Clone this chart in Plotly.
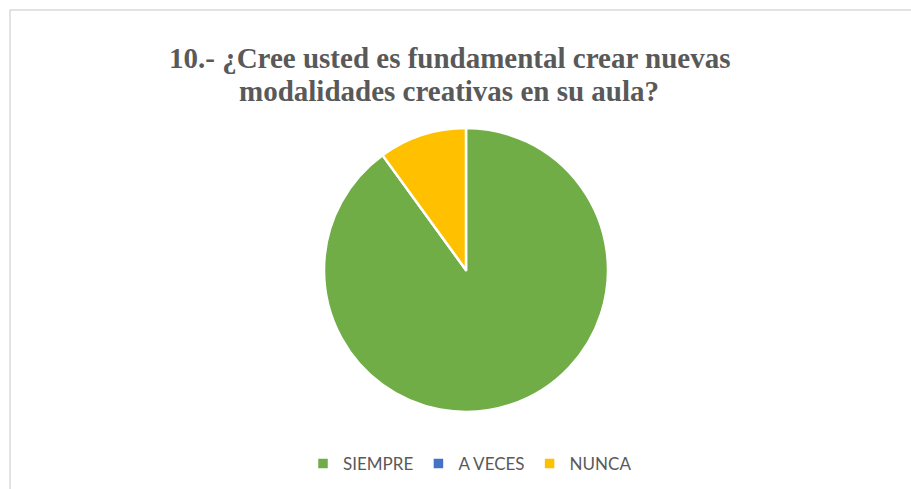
import plotly.graph_objects as go

labels = ["SIEMPRE", "A VECES", "NUNCA"]
values = [90, 0, 10]
colors = ["#70AD47", "#4472C4", "#FFC000"]
title_lines = ["10.- ¿Cree usted es fundamental crear nuevas",
               "modalidades creativas en su aula?"]

W, H = 911, 489

fig = go.Figure()
fig.add_trace(go.Pie(
    labels=labels, values=values, sort=False, direction="clockwise", rotation=0,
    marker=dict(colors=colors, line=dict(color="white", width=2.5)),
    textinfo="none", hoverinfo="label+percent",
    domain=dict(x=[(466-142)/W, (466+142)/W], y=[1-412/H, 1-128/H]),
    showlegend=True,
))

for i, (line, yc) in enumerate(zip(title_lines, [58, 91])):
    fig.add_annotation(
        text="<b>" + line + "</b>", xref="paper", yref="paper", x=449/W, y=1-yc/H,
        xanchor="center", yanchor="middle", showarrow=False,
        font=dict(family="Liberation Serif", size=29, color="#595959"),
    )

fig.add_shape(type="rect", xref="paper", yref="paper",
              x0=10/W, x1=1.02, y0=-0.02, y1=1-10/H,
              line=dict(color="#D9D9D9", width=1.5), fillcolor="rgba(0,0,0,0)")

fig.update_layout(
    width=W, height=H, margin=dict(l=0, r=0, t=0, b=0),
    paper_bgcolor="white", plot_bgcolor="white",
    legend=dict(orientation="h", x=470/W, xanchor="center", y=1-464/H, yanchor="middle",
                font=dict(family="Lato", size=17, color="#595959"),
                itemclick=False, traceorder="normal", itemwidth=30),
)

fig.write_html("out.html", config={"displayModeBar": False},
               post_script="document.body.style.margin='0';")
